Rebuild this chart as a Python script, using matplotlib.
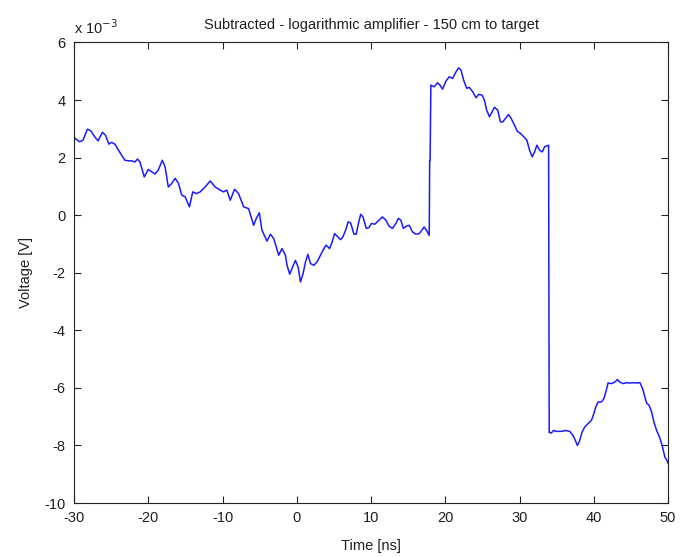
import matplotlib
matplotlib.use("Agg")
import matplotlib.pyplot as plt
import numpy as np

# Time [ns]
time_ns = [
    -30.0, -29.69, -29.23, -28.78, -28.20, -27.74, -27.20, -26.76, -26.18, -25.77,
    -25.31, -24.96, -24.50, -24.05, -23.61, -23.15, -22.70, -22.26, -21.80, -21.45,
    -21.12, -20.54, -20.00, -19.55, -19.09, -18.65, -18.11, -17.74, -17.30, -16.85,
    -16.39, -15.95, -15.50, -15.04, -14.46, -14.01, -13.47, -13.01, -12.34, -11.66,
    -10.99, -10.31, -9.86, -9.42, -8.96, -8.38, -7.84, -7.16, -6.49, -5.81,
    -5.45, -5.04, -4.69, -4.01, -3.55, -3.11, -2.43, -1.99, -1.53, -1.31,
    -0.95, -0.64, -0.18, 0.18, 0.50, 0.85, 1.18, 1.49, 1.85, 2.30,
    2.74, 3.20, 3.65, 3.96, 4.42, 4.77, 5.09, 5.45, 5.91, 6.22,
    6.58, 6.93, 7.26, 7.70, 8.01, 8.28, 8.61, 8.92, 9.36, 9.73,
    10.04, 10.54, 11.08, 11.53, 11.99, 12.43, 12.88, 13.34, 13.69, 14.01,
    14.36, 14.77, 15.14, 15.58, 16.04, 16.49, 16.85, 17.16, 17.47, 17.84,
    17.90, 17.96, 18.06, 18.51, 18.96, 19.28, 19.64, 20.09, 20.54, 20.99,
    21.45, 21.80, 22.12, 22.47, 22.88, 23.24, 23.69, 24.15, 24.50, 24.96,
    25.27, 25.58, 25.95, 26.31, 26.62, 27.07, 27.43, 27.74, 28.11, 28.51,
    28.88, 29.32, 29.69, 30.14, 30.58, 30.99, 31.35, 31.72, 32.03, 32.34,
    32.70, 33.07, 33.38, 33.92, 34.00, 34.05, 34.28, 34.59, 34.96, 35.64,
    36.22, 36.76, 37.20, 37.53, 37.80, 38.11, 38.42, 38.78, 39.23, 39.69,
    40.00, 40.27, 40.58, 41.04, 41.35, 41.62, 41.93, 42.39, 42.84, 43.20,
    43.51, 43.96, 44.42, 44.86, 45.31, 45.77, 46.22, 46.58, 46.89, 47.12,
    47.47, 47.80, 48.11, 48.47, 48.82, 49.15, 49.36, 49.59, 49.82, 50.0,
]

# Voltage [x 10^-3 V]
voltage_mV = [
    2.72, 2.63, 2.55, 2.61, 2.99, 2.93, 2.72, 2.58, 2.88, 2.78,
    2.47, 2.53, 2.47, 2.28, 2.09, 1.91, 1.89, 1.89, 1.85, 1.95,
    1.85, 1.33, 1.59, 1.51, 1.43, 1.57, 1.91, 1.68, 0.98, 1.10,
    1.28, 1.12, 0.70, 0.64, 0.29, 0.81, 0.75, 0.81, 0.98, 1.19,
    0.98, 0.87, 0.81, 0.87, 0.52, 0.90, 0.75, 0.29, 0.23, -0.35,
    -0.11, 0.08, -0.52, -0.90, -0.66, -0.81, -1.39, -1.16, -1.39, -1.74,
    -2.05, -1.85, -1.57, -1.80, -2.32, -2.03, -1.62, -1.36, -1.68, -1.74,
    -1.62, -1.39, -1.16, -1.04, -1.16, -0.93, -0.64, -0.73, -0.85, -0.75,
    -0.52, -0.23, -0.27, -0.66, -0.66, -0.31, 0.03, -0.06, -0.46, -0.43,
    -0.29, -0.31, -0.17, -0.06, -0.17, -0.38, -0.46, -0.29, -0.11, -0.17,
    -0.46, -0.38, -0.35, -0.58, -0.66, -0.64, -0.52, -0.41, -0.52, -0.70,
    1.90, 1.90, 4.52, 4.46, 4.60, 4.52, 4.38, 4.66, 4.81, 4.75,
    4.98, 5.12, 5.04, 4.70, 4.41, 4.44, 4.29, 4.08, 4.20, 4.17,
    4.00, 3.65, 3.42, 3.59, 3.75, 3.65, 3.24, 3.24, 3.36, 3.50,
    3.36, 3.13, 2.92, 2.84, 2.72, 2.61, 2.26, 2.03, 2.20, 2.43,
    2.26, 2.20, 2.38, 2.43, -7.55, -7.54, -7.57, -7.48, -7.51, -7.51,
    -7.48, -7.51, -7.65, -7.83, -8.00, -7.83, -7.54, -7.36, -7.24, -7.13,
    -6.90, -6.67, -6.49, -6.49, -6.38, -6.15, -5.83, -5.85, -5.80, -5.71,
    -5.80, -5.85, -5.82, -5.83, -5.82, -5.83, -5.82, -6.03, -6.32, -6.53,
    -6.61, -6.84, -7.19, -7.48, -7.69, -7.94, -8.17, -8.41, -8.50, -8.62,
]

x_ticks = [-30, -20, -10, 0, 10, 20, 30, 40, 50]
y_ticks = [-10, -8, -6, -4, -2, 0, 2, 4, 6]

plt.rcParams['font.family'] = ['Liberation Sans', 'DejaVu Sans']
txt_color = '#1f1f1f'

fig = plt.figure(figsize=(6.81, 5.57), dpi=100)
ax = fig.add_axes([0.1087, 0.0969, 0.8722, 0.8268])

ax.plot(time_ns, voltage_mV, color=(0.1, 0.1, 1.0), linewidth=1.1)

ax.set_xlim(-30, 50)
ax.set_ylim(-10, 6)
ax.set_xticks(x_ticks)
ax.set_yticks(y_ticks)
ax.set_xticklabels([str(v) for v in x_ticks])
ax.set_yticklabels([str(v) for v in y_ticks])

ax.tick_params(direction='in', top=True, right=True, length=5, width=0.8,
               labelsize=10.5, pad=6, colors='#222222', labelcolor=txt_color)
for s in ax.spines.values():
    s.set_linewidth(0.8)
    s.set_color('#222222')

ax.set_title('Subtracted - logarithmic amplifier - 150 cm to target',
             fontsize=10.5, pad=10, color=txt_color)
ax.set_xlabel('Time [ns]', fontsize=10.5, labelpad=10, color=txt_color)
ax.set_ylabel('Voltage [V]', fontsize=10.5, labelpad=8, color=txt_color)

ax.text(0.0, 1.012, r'x 10$^{-3}$', transform=ax.transAxes, fontsize=10.5,
        ha='left', va='bottom', color=txt_color)

fig.savefig('out.png', dpi=100)
